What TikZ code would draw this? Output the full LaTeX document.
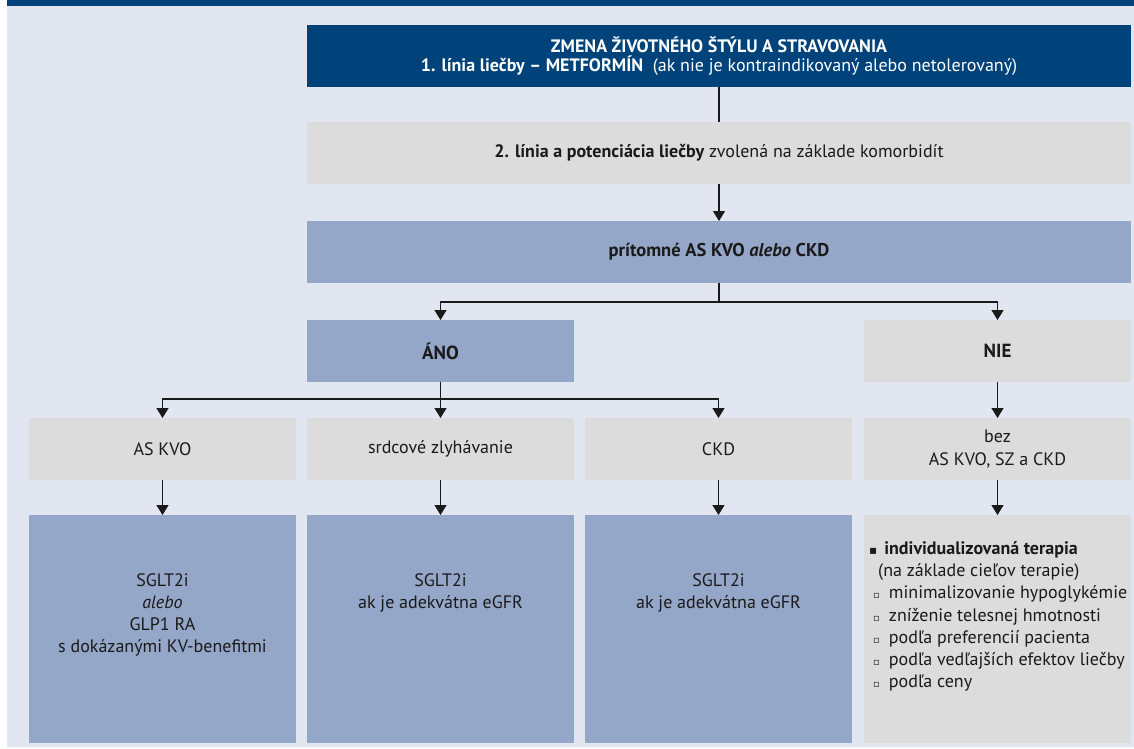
\documentclass[tikz,border=0pt]{standalone}
\usepackage{fontspec}
\setmainfont{PT Sans}
\newfontfamily\symf{DejaVu Sans}
\usetikzlibrary{arrows.meta}
\definecolor{darkblue}{HTML}{00437A}
\definecolor{bgblue}{HTML}{E1E6F1}
\definecolor{boxgray}{HTML}{DCDCDC}
\definecolor{boxblue}{HTML}{94A7C8}
\definecolor{ink}{HTML}{1A1A1A}
\newcommand{\bsq}{{\symf\fontsize{12}{12}\selectfont ▪}}
\newcommand{\wsq}{{\symf\fontsize{10}{10}\selectfont ▫}}
\begin{document}
\begin{tikzpicture}[x=1pt,y=-1pt,
  box/.style={inner sep=0pt, outer sep=0pt, align=center, text=ink, minimum height=62pt, minimum width=267pt},
  gbox/.style={box, fill=boxgray},
  bbox/.style={box, fill=boxblue},
  lbl/.style={inner sep=0pt, align=center, text=ink, font=\fontsize{18}{22}\selectfont},
  conn/.style={draw=ink, line width=1.3pt},
  arr/.style={conn, -{Triangle[width=12pt,length=10pt]}}
]
\useasboundingbox (0,0) rectangle (1134,748);
\fill[white] (0,0) rectangle (1134,748);
\fill[bgblue] (7,0) rectangle (1134,747);
\fill[darkblue] (7,0) rectangle (1134,6);

% top
\node[box, fill=darkblue, text=white, minimum width=824pt, font=\fontsize{18}{18.5}\selectfont] (top) at (719,56)
  {\textbf{ZMENA ŽIVOTNÉHO ŠTÝLU A STRAVOVANIA}\\ \textbf{1. línia liečby – METFORMÍN}\ \ (ak nie je kontraindikovaný alebo netolerovaný)};
\node[gbox, minimum width=824pt, font=\fontsize{18}{22}\selectfont] (second) at (719,153)
  {\textbf{2. línia a potenciácia liečby} zvolená na základe komorbidít};
\node[bbox, minimum width=824pt, font=\fontsize{18.5}{22}\selectfont] (third) at (719,252)
  {\textbf{prítomné AS KVO \textit{alebo} CKD}};

\node[bbox, font=\bfseries\fontsize{19}{22}\selectfont] (ano) at (440.5,351) {ÁNO};
\node[gbox, font=\bfseries\fontsize{19}{22}\selectfont] (nie) at (997.5,351) {NIE};

\node[gbox, font=\fontsize{18}{23}\selectfont] (askvo) at (162.5,449) {AS KVO};
\node[gbox, font=\fontsize{18}{23}\selectfont] (srdc) at (440.5,449) {srdcové zlyhávanie};
\node[gbox, font=\fontsize{18}{23}\selectfont] (ckd) at (718.5,449) {CKD};
\node[gbox, font=\fontsize{18}{23}\selectfont] (bez) at (997.5,449) {bez\\AS KVO, SZ a CKD};

\node[bbox, minimum height=228pt] (r1) at (162.5,629) {};
\node[bbox, minimum height=228pt] (r2) at (440.5,629) {};
\node[bbox, minimum height=228pt] (r3) at (718.5,629) {};
\node[gbox, minimum height=228pt] (r4) at (997.5,629) {};
\node[lbl, anchor=north] (r1t) at (162.5,573)
  {SGLT2i\\ \textit{alebo}\\ GLP1 RA\\ s dokázanými KV-benefitmi};
\node[lbl, anchor=north] (r2t) at (440.5,573) {SGLT2i\\ ak je adekvátna eGFR};
\node[lbl, anchor=north] (r3t) at (718.5,573) {SGLT2i\\ ak je adekvátna eGFR};
\node[anchor=north west, inner sep=0pt, align=left, text=ink, font=\fontsize{18}{22.3}\selectfont] (list) at (869,541)
  {\bsq\hspace{7pt}\textbf{individualizovaná terapia}\\
   \hspace*{9pt}(na základe cieľov terapie)\\
   \hspace*{4pt}\wsq\hspace{9pt}minimalizovanie hypoglykémie\\
   \hspace*{4pt}\wsq\hspace{9pt}zníženie telesnej hmotnosti\\
   \hspace*{4pt}\wsq\hspace{9pt}podľa preferencií pacienta\\
   \hspace*{4pt}\wsq\hspace{9pt}podľa vedľajších efektov liečby\\
   \hspace*{4pt}\wsq\hspace{9pt}podľa ceny};

% connectors
\draw[conn] (top.south) -- (second.north);
\draw[arr] (second.south) -- (third.north);
\draw[conn] (third.south) -- ++(0,19) coordinate (s1);
\draw[arr] (s1) -| (ano.north);
\draw[arr] (s1) -| (nie.north);
\draw[conn] (ano.south) -- ++(0,17) coordinate (s2);
\draw[arr] (s2) -| (askvo.north);
\draw[arr] (s2) -- (srdc.north);
\draw[arr] (s2) -| (ckd.north);
\draw[arr] (nie.south) -- (bez.north);
\draw[arr] (askvo.south) -- (r1.north);
\draw[arr] (srdc.south) -- (r2.north);
\draw[arr] (ckd.south) -- (r3.north);
\draw[arr] (bez.south) -- (r4.north);
\end{tikzpicture}
\end{document}
